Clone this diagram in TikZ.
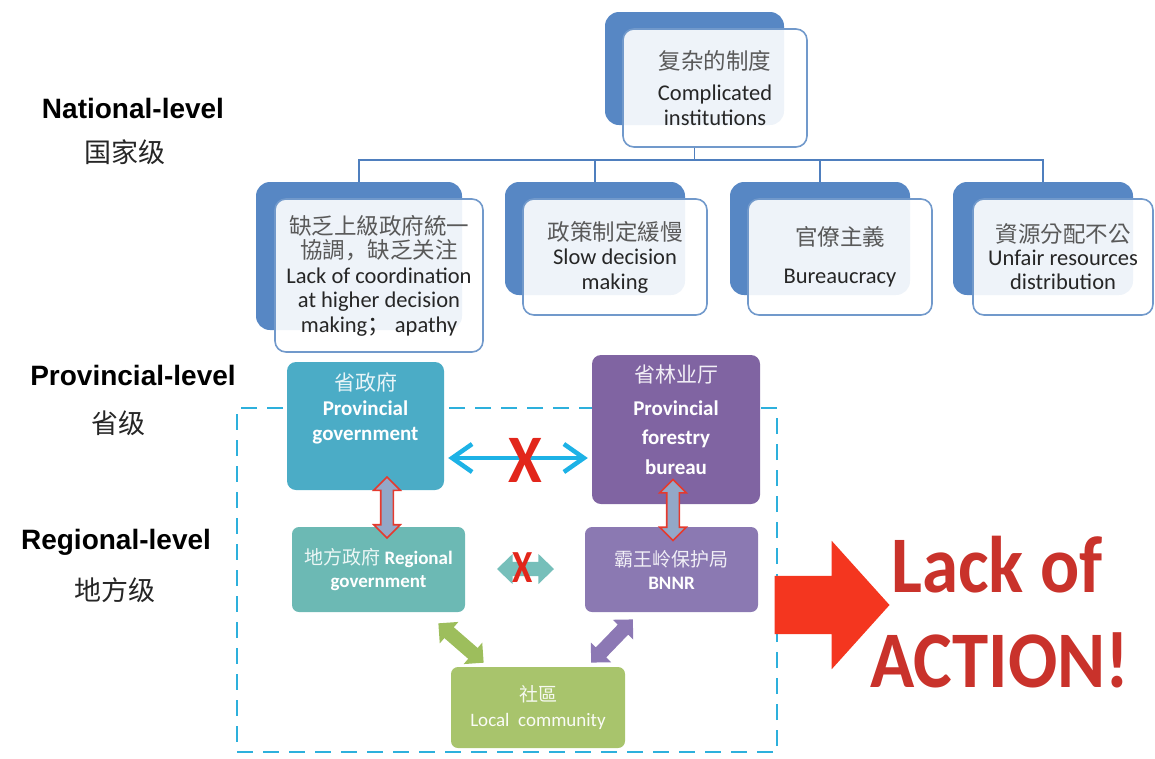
\documentclass[tikz,border=0pt]{standalone}
\usepackage{fontspec}
\usepackage{graphicx}
\setmainfont{Carlito}
\newfontfamily\arialfont{Liberation Sans}
\newfontfamily\cjksc{Noto Sans CJK SC}
\newfontfamily\cjktc{Noto Sans CJK TC}
\usetikzlibrary{shapes.arrows,calc,arrows.meta}
\definecolor{bkblue}{HTML}{5787C4}
\definecolor{frborder}{HTML}{7199CB}
\definecolor{treeline}{HTML}{4F7FBE}
\definecolor{pgcol}{HTML}{4BACC6}
\definecolor{pfcol}{HTML}{8064A2}
\definecolor{rgcol}{HTML}{6CB9B4}
\definecolor{bncol}{HTML}{8B79B2}
\definecolor{lccol}{HTML}{A8C46C}
\definecolor{dashcol}{HTML}{2DB0DC}
\definecolor{cyanarr}{HTML}{1DB2E6}
\definecolor{xred}{HTML}{E2261B}
\definecolor{bigred}{HTML}{F4361F}
\definecolor{actred}{HTML}{C9322B}
\definecolor{vafill}{HTML}{93A8C8}
\definecolor{vared}{HTML}{E53A2E}
\definecolor{tealarr}{HTML}{76BFBA}
\definecolor{grarr}{HTML}{9DBE5C}
\definecolor{puarr}{HTML}{8C78B4}
\definecolor{cngray}{HTML}{595959}
\definecolor{txtdark}{HTML}{262626}
\begin{document}
\begin{tikzpicture}[x=1pt,y=-1pt,
  backbox/.style={fill=bkblue, rounded corners=14pt, inner sep=0},
  frontbox/.style={fill=white, fill opacity=0.9, text opacity=1, draw=frborder, line width=1.6pt,
    rounded corners=11pt, align=center, inner sep=0, text=txtdark, font=\fontsize{22.5}{24.5}\selectfont},
  tree/.style={draw=treeline, line width=1.8pt},
  levellab/.style={font=\arialfont\bfseries\fontsize{28}{30}\selectfont, text=black},
  levelcn/.style={font=\cjksc\fontsize{27}{30}\selectfont, text=black!85},
  provbox/.style={rounded corners=9pt, inner sep=0, text=white, font=\fontsize{21}{25}\selectfont},
  regbox/.style={rounded corners=7pt, inner sep=0, align=center, text=white, font=\fontsize{19}{23}\selectfont},
  zonebox/.style={draw=dashcol, line width=2.6pt, dash pattern=on 16pt off 10pt, inner sep=0},
  vblock/.style={double arrow, draw=vared, fill=vafill, line width=1.6pt, inner xsep=0pt, inner ysep=5.5pt,
    double arrow head extend=7pt, minimum height=61pt, rotate=90},
  dblock/.style={double arrow, inner xsep=0pt, inner ysep=7pt, double arrow head extend=7pt, minimum height=60pt},
  redx/.style={text=xred, font=\bfseries}
]
\useasboundingbox (0,0) rectangle (1155,758);

% level labels
\node[levellab] (natl) at (133,108) {National-level};
\node[levelcn] (natlcn) at (125,152) {国家级};
\node[levellab] (prov) at (133,375) {Provincial-level};
\node[levelcn] (provcn) at (118,423) {省级};
\node[levellab] (regl) at (116,542) {Regional-level};
\node[levelcn] (reglcn) at (115,590) {地方级};

% national level back boxes
\node[backbox, minimum width=179, minimum height=113] (tb) at (694.5,68.5) {};
\node[backbox, minimum width=206, minimum height=148] (b1b) at (359,256) {};
\node[backbox, minimum width=180, minimum height=113] (b2b) at (595,238.5) {};
\node[backbox, minimum width=180, minimum height=113] (b3b) at (820,238.5) {};
\node[backbox, minimum width=180, minimum height=113] (b4b) at (1043,238.5) {};

% front boxes
\node[frontbox, minimum width=184, minimum height=118] (tf) at (715,88)
  {{\cjksc\color{cngray}复杂的制度}\\[7pt]Complicated\\institutions};
\node[frontbox, minimum width=208, minimum height=153] (b1f) at (379,275.5)
  {{\cjktc\color{cngray}缺乏上級政府統一}\\{\cjktc\color{cngray}協調}{\cjksc\color{cngray}，缺乏关注}\\Lack of coordination\\at higher decision\\making{\cjksc ；} apathy};
\node[frontbox, minimum width=184, minimum height=116] (b2f) at (615,257)
  {{\cjktc\color{cngray}政策制定緩慢}\\Slow decision\\making};
\node[frontbox, minimum width=184, minimum height=116] (b3f) at (840,257)
  {{\cjktc\color{cngray}官僚主義}\\[13pt]Bureaucracy};
\node[frontbox, minimum width=180, minimum height=116] (b4f) at (1063,257)
  {{\cjktc\color{cngray}資源分配不公}\\[-2pt]Unfair resources\\distribution};

% tree connectors
\coordinate (hub) at (694.5,160);
\draw[tree] (tb.south |- tf.south) -- (hub);
\draw[tree] (b1b.north) |- (hub);
\draw[tree] (b4b.north) |- (hub);
\draw[tree] (b2b.north) -- (b2b.north |- hub);
\draw[tree] (b3b.north) -- (b3b.north |- hub);

% dashed zone
\node[zonebox, minimum width=540, minimum height=344] (zone) at (507,580) {};

% provincial boxes
\node[provbox, fill=pgcol] (pg) at (365.5,426)
  {\begin{minipage}[t][128pt][t]{157pt}\centering\vspace*{11pt}%
   {\cjksc\color{white!88!pgcol}省政府}\\\bfseries Provincial\\government\end{minipage}};
\node[provbox, fill=pfcol] (pf) at (676,429.5)
  {\begin{minipage}[t][149pt][t]{168pt}\centering\fontsize{21}{29.5}\selectfont\vspace*{10pt}%
   {\cjksc\color{white!90!pfcol}省林业厅}\\[3pt]\bfseries Provincial\\forestry\\bureau\end{minipage}};

% regional boxes
\node[regbox, fill=rgcol, minimum width=173, minimum height=85] (rg) at (378.5,569.5)
  {{\cjksc\color{white!88!rgcol}地方政府} \textbf{Regional}\\\textbf{government}};
\node[regbox, fill=bncol, minimum width=173, minimum height=85] (bn) at (671.5,569.5)
  {{\cjksc\color{white!88!bncol}霸王岭保护局}\\\textbf{BNNR}};
\node[regbox, fill=lccol, minimum width=174, minimum height=81, font=\fontsize{19}{25}\selectfont] (lc) at (538,707.5)
  {{\cjktc\color{white!90!lccol}社區}\\{\color{white!94!lccol}Local\ \ community}};

% cyan double arrow with X
\coordinate (ay) at (0,458);
\draw[draw=cyanarr, line width=4.5pt, shorten <=4pt, shorten >=4pt,
  arrows={Straight Barb[length=20pt,width=28pt]-Straight Barb[length=20pt,width=28pt]}]
  (pg.east |- ay) -- (pf.west |- ay);
\node[redx, font=\bfseries\fontsize{68}{68}\selectfont] (x1) at (525,460) {\scalebox{0.9}[1]{X}};

% vertical block arrows
\node[vblock] (va1) at (387,507.5) {};
\node[vblock] (va2) at (673,510) {};

% small teal arrow with X
\node[double arrow, fill=tealarr, inner xsep=0pt, inner ysep=7pt, double arrow head extend=8pt,
  double arrow tip angle=88, minimum height=57pt] (ta) at (525.5,569) {};
\node[redx, font=\bfseries\fontsize{46}{46}\selectfont] (x2) at (523,568) {\scalebox{0.8}[1]{X}};

% diagonal arrows to community
\node[dblock, fill=grarr, rotate=-41] (ga) at (461,643) {};
\node[dblock, fill=puarr, rotate=46] (pa) at (612,641) {};

% big red arrow
\coordinate (bigy) at (0,605);
\node[single arrow, fill=bigred, anchor=tail, inner xsep=0pt, inner ysep=29pt,
  single arrow head extend=35pt, single arrow tip angle=96, minimum height=115pt]
  (big) at ([xshift=-4pt]zone.east |- bigy) {};

% Lack of ACTION!
\node[anchor=base, text=actred, font=\bfseries\fontsize{73}{80}\selectfont] (lack) at (997,592) {\scalebox{1}[1.1]{Lack of}};
\node[anchor=base, text=actred, font=\bfseries\fontsize{73}{80}\selectfont] (action) at (1000,687) {\scalebox{1}[1.1]{ACTION!}};
\end{tikzpicture}
\end{document}
